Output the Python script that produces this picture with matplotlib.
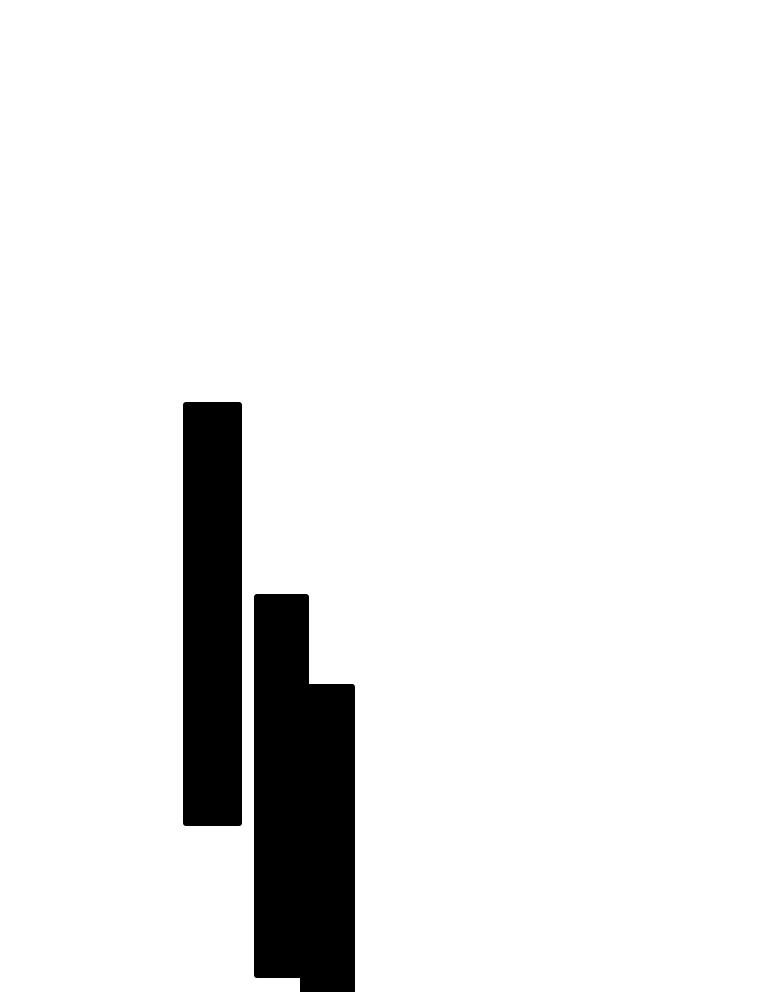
import matplotlib
matplotlib.use("Agg")
import matplotlib.pyplot as plt
from matplotlib.patches import FancyBboxPatch

# floating bars: horizontal extent and vertical range (pixel-like units, y grows downward)
bar_left = [183, 254, 300]
bar_right = [242, 309, 355]
bar_top = [402, 594, 684]
bar_bottom = [826, 978, 1000]

fig = plt.figure(figsize=(7.6, 9.92), dpi=100)
ax = fig.add_axes([0, 0, 1, 1])
ax.set_xlim(0, 760)
ax.set_ylim(992, 0)
ax.axis("off")

for x0, x1, y0, y1 in zip(bar_left, bar_right, bar_top, bar_bottom):
    ax.add_patch(FancyBboxPatch((x0, y0), x1 - x0, y1 - y0,
                                boxstyle="round,pad=0,rounding_size=3",
                                facecolor="black", edgecolor="none"))

fig.savefig("out.png", dpi=100, facecolor="white")
